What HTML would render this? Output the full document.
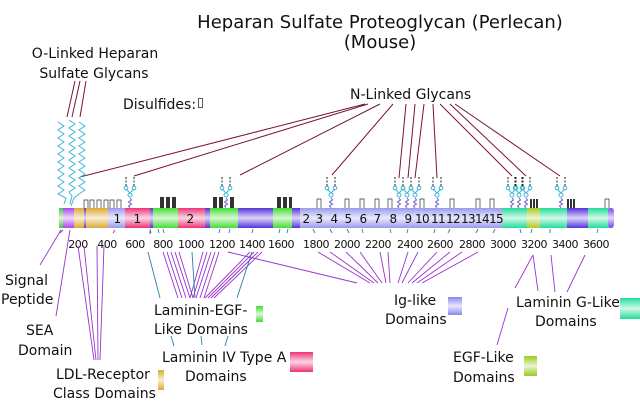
<!DOCTYPE html>
<html><head><meta charset="utf-8"><style>
html,body{margin:0;padding:0;background:#fff;}
svg{display:block;font-family:"DejaVu Sans","Liberation Sans",sans-serif;}
</style></head><body>
<svg width="640" height="407" viewBox="0 0 640 407" xmlns="http://www.w3.org/2000/svg">
<defs>
<linearGradient id="sh" x1="0" y1="0" x2="0" y2="1">
<stop offset="0" stop-color="#fff" stop-opacity="0"/>
<stop offset="0.5" stop-color="#fff" stop-opacity="0.8"/>
<stop offset="1" stop-color="#fff" stop-opacity="0"/>
</linearGradient>
<g id="gly" fill="none" stroke="#3bb8d0" stroke-width="1">
<path d="M0,28 l-1.5,-2 l3,-2 l-3,-2 l3,-2 l-1.5,-2" stroke="#6a5acd"/>
<circle cx="0" cy="15" r="2"/>
<path d="M0,13 L-4,9 M0,13 L4,9"/>
<circle cx="-4" cy="8" r="1.8"/><circle cx="4" cy="8" r="1.8"/>
<path d="M-4,6 V-4 M4,6 V-4" stroke="#222" stroke-dasharray="2,1.5"/>
</g>
</defs>
<g font-size="18" fill="#111" text-anchor="middle">
<text x="380" y="28">Heparan Sulfate Proteoglycan (Perlecan)</text>
<text x="380" y="48">(Mouse)</text>
</g>
<g font-size="14" fill="#111">
<text x="95" y="58" text-anchor="middle">O-Linked Heparan</text>
<text x="94" y="78" text-anchor="middle">Sulfate Glycans</text>
<text x="123" y="109">Disulfides:</text>
<text x="350" y="99">N-Linked Glycans</text>
<text x="5" y="285">Signal</text>
<text x="1" y="304">Peptide</text>
<text x="26" y="335">SEA</text>
<text x="18" y="355">Domain</text>
<text x="56" y="379">LDL-Receptor</text>
<text x="53" y="398">Class Domains</text>
<text x="154" y="315">Laminin-EGF-</text>
<text x="154" y="334">Like Domains</text>
<text x="162" y="362">Laminin IV Type A</text>
<text x="185" y="381">Domains</text>
<text x="394" y="305">Ig-like</text>
<text x="385" y="324">Domains</text>
<text x="516" y="307">Laminin G-Like</text>
<text x="535" y="326">Domains</text>
<text x="453" y="362">EGF-Like</text>
<text x="453" y="382">Domains</text>
</g>
<rect x="198.5" y="98.5" width="4" height="9" fill="none" stroke="#333" stroke-width="0.8"/>
<g>
<rect x="256" y="306" width="7" height="16" fill="#44dd33"/><rect x="256" y="306" width="7" height="16" fill="url(#sh)"/>
<rect x="290" y="352" width="23" height="20" fill="#ee3377"/><rect x="290" y="352" width="23" height="20" fill="url(#sh)"/>
<rect x="158" y="370" width="6" height="20" fill="#ddaa33"/><rect x="158" y="370" width="6" height="20" fill="url(#sh)"/>
<rect x="448" y="297" width="14" height="18" fill="#8888ee"/><rect x="448" y="297" width="14" height="18" fill="url(#sh)"/>
<rect x="620" y="298" width="20" height="21" fill="#22dd99"/><rect x="620" y="298" width="20" height="21" fill="url(#sh)"/>
<rect x="524" y="356" width="13" height="20" fill="#99cc22"/><rect x="524" y="356" width="13" height="20" fill="url(#sh)"/>
</g>
<g stroke="#7a1040" stroke-width="1" fill="none">
<path d="M67,117 L75,81 M72,117 L80,81 M80,117 L86,81"/>
<path d="M365,104 L80,177 M368,104 L134,176 M380,104 L240,175 M393,104 L332,175 M406,104 L399,178 M415,104 L408,178 M424,104 L415,178 M433,104 L437,178 M440,104 L512,176 M450,104 L526,176 M455,104 L560,176"/>
</g>
<g fill="none" stroke="#3bb8d0" stroke-width="1">
<path d="M58,122 l6,4 l-6,4 l6,4 l-6,4 l6,4 l-6,4 l6,4 l-6,4 l6,4 l-6,4 l6,4 l-6,4 l6,4 l-6,4 l6,4 l-6,4 l6,4 l-6,4 l8,4 l-2,6"/>
<path d="M69,120 l6,4 l-6,4 l6,4 l-6,4 l6,4 l-6,4 l6,4 l-6,4 l6,4 l-6,4 l6,4 l-6,4 l6,4 l-6,4 l6,4 l-6,4 l6,4 l-6,4 l3,4 l-2,8"/>
<path d="M79,122 l6,4 l-6,4 l6,4 l-6,4 l6,4 l-6,4 l6,4 l-6,4 l6,4 l-6,4 l6,4 l-6,4 l6,4 l-6,4 l6,4 l-6,4 l6,4 l-6,4 l-5,4 l-3,8"/>
</g>
<g>
<use href="#gly" x="130" y="180"/><use href="#gly" x="226" y="180"/><use href="#gly" x="331" y="180"/>
<use href="#gly" x="399" y="180"/><use href="#gly" x="407" y="180"/><use href="#gly" x="415" y="180"/>
<use href="#gly" x="437" y="180"/><use href="#gly" x="512" y="180"/><use href="#gly" x="519" y="180"/>
<use href="#gly" x="526" y="180"/><use href="#gly" x="561" y="180"/>
</g>
<g fill="#fff" stroke="#333" stroke-width="0.7">
<path d="M84,208 v-8 h4 v8 M90,208 v-8 h4 v8 M97,208 v-8 h4 v8 M104,208 v-8 h4 v8 M110,208 v-8 h4 v8 M117,208 v-8 h4 v8"/>
<path d="M317,208 v-9 h4 v9 M345,208 v-9 h4 v9 M360,208 v-9 h4 v9 M375,208 v-9 h4 v9 M388,208 v-9 h4 v9 M420,208 v-9 h4 v9 M450,208 v-9 h4 v9 M476,208 v-9 h4 v9 M490,208 v-9 h4 v9 M605,208 v-9 h4 v9"/>
</g>
<g fill="#333">
<rect x="160" y="197" width="4" height="11"/><rect x="166" y="197" width="4" height="11"/><rect x="172" y="197" width="4" height="11"/>
<rect x="213" y="197" width="4" height="11"/><rect x="219" y="197" width="4" height="11"/><rect x="230" y="197" width="4" height="11"/>
<rect x="277" y="197" width="4" height="11"/><rect x="283" y="197" width="4" height="11"/><rect x="289" y="197" width="3" height="11"/>
<rect x="530" y="199" width="2" height="9"/><rect x="533" y="199" width="2" height="9"/><rect x="536" y="199" width="2" height="9"/>
<rect x="567" y="199" width="2" height="9"/><rect x="570" y="199" width="2" height="9"/><rect x="573" y="199" width="2" height="9"/>
</g>
<g>
<rect x="59" y="208" width="4" height="20" fill="#44cc44"/>
<rect x="63" y="208" width="11" height="20" fill="#aa44ee"/>
<rect x="74" y="208" width="10" height="20" fill="#ddaa33"/>
<rect x="84" y="208" width="2" height="20" fill="#6633cc"/>
<rect x="86" y="208" width="22" height="20" fill="#ddaa33"/>
<rect x="108" y="208" width="17" height="20" fill="#9999ee"/>
<rect x="125" y="208" width="25" height="20" fill="#ee3377"/>
<rect x="150" y="208" width="3" height="20" fill="#5533cc"/>
<rect x="153" y="208" width="25" height="20" fill="#44dd33"/>
<rect x="178" y="208" width="27" height="20" fill="#ee3377"/>
<rect x="205" y="208" width="5" height="20" fill="#5533cc"/>
<rect x="210" y="208" width="28" height="20" fill="#44dd33"/>
<rect x="238" y="208" width="35" height="20" fill="#5533dd"/>
<rect x="273" y="208" width="19" height="20" fill="#44dd33"/>
<rect x="292" y="208" width="8" height="20" fill="#5533dd"/>
<rect x="300" y="208" width="202" height="20" fill="#9999ee"/>
<rect x="502" y="208" width="25" height="20" fill="#22dd99"/>
<rect x="527" y="208" width="13" height="20" fill="#aacc22"/>
<rect x="540" y="208" width="27" height="20" fill="#22dd99"/>
<rect x="567" y="208" width="21" height="20" fill="#5533dd"/>
<rect x="588" y="208" width="24" height="20" fill="#22dd99"/>
<rect x="608" y="208" width="6" height="20" rx="3" fill="#7744ee"/>
<rect x="59" y="208" width="555" height="20" fill="url(#sh)"/>
</g>
<g font-size="12" fill="#111" text-anchor="middle" letter-spacing="-0.6">
<text x="117" y="223">1</text><text x="137" y="223">1</text><text x="190" y="223">2</text>
<text x="306" y="223">2</text><text x="319" y="223">3</text><text x="334" y="223">4</text><text x="348" y="223">5</text>
<text x="363" y="223">6</text><text x="377" y="223">7</text><text x="393" y="223">8</text><text x="408" y="223">9</text>
<text x="422" y="223">10</text><text x="438" y="223">11</text><text x="453" y="223">12</text><text x="468" y="223">13</text>
<text x="482" y="223">14</text><text x="496" y="223">15</text>
</g>
<g font-size="11" fill="#111" text-anchor="middle" letter-spacing="-0.5">
<text x="78" y="248">200</text><text x="107" y="248">400</text><text x="135" y="248">600</text><text x="163" y="248">800</text>
<text x="191" y="248">1000</text><text x="222" y="248">1200</text><text x="252" y="248">1400</text><text x="281" y="248">1600</text>
<text x="316" y="248">1800</text><text x="347" y="248">2000</text><text x="378" y="248">2200</text><text x="410" y="248">2400</text>
<text x="440" y="248">2600</text><text x="472" y="248">2800</text><text x="503" y="248">3000</text><text x="534" y="248">3200</text>
<text x="565" y="248">3400</text><text x="596" y="248">3600</text>
</g>
<g stroke="#9933cc" stroke-width="0.9" fill="none">
<path d="M61,230 L40,265 M70,230 L56,316"/>
<path d="M78,246 L94,360 M84,246 L96,360 M97,246 L98,360 M104,246 L100,360"/>
<path d="M163,252 L178,298 M167,252 L182,298 M171,252 L186,298 M175,252 L190,298 M179,252 L193,298 M203,252 L190,298 M207,252 L193,298 M211,252 L196,298 M215,252 L200,298 M219,252 L204,298 M250,252 L205,298 M254,252 L208,298 M258,252 L211,298 M262,252 L214,298"/>
<path d="M228,252 L357,283"/>
<path d="M318,252 L370,283 M330,252 L374,283 M346,252 L378,283 M360,252 L382,283 M380,252 L386,283 M388,252 L390,283 M408,252 L398,283 M418,252 L402,283 M437,252 L408,283 M450,252 L412,283 M462,252 L417,283 M478,252 L422,283"/>
<path d="M533,255 L515,288 M533,255 L538,291 M551,255 L555,292 M585,255 L567,292 M508,308 L497,345"/>
<path d="M63,230 L60,233 M115,230 L113,233 M150,231 L150,234"/>
</g>
<g stroke="#2a7fa8" stroke-width="0.9" fill="none">
<path d="M148,252 L160,298 M192,252 L195,298 M252,252 L237,298 M171,336 L174,346 M201,336 L202,345 M228,336 L225,346"/>
<path d="M150,229 L151,233 M158,229 L159,233 M163,229 L164,233 M220,229 L219,233 M230,229 L229,233 M253,229 L252,233 M280,229 L279,233 M288,229 L287,233 M313,229 L315,233 M330,229 L332,233 M347,229 L349,233 M362,229 L363,233 M390,229 L391,233 M408,229 L407,233 M435,229 L434,233 M450,229 L448,233 M478,229 L476,233 M495,229 L493,233 M520,229 L521,233 M532,229 L531,233 M550,229 L550,233 M598,229 L597,233"/>
</g>
</svg>
</body></html>
